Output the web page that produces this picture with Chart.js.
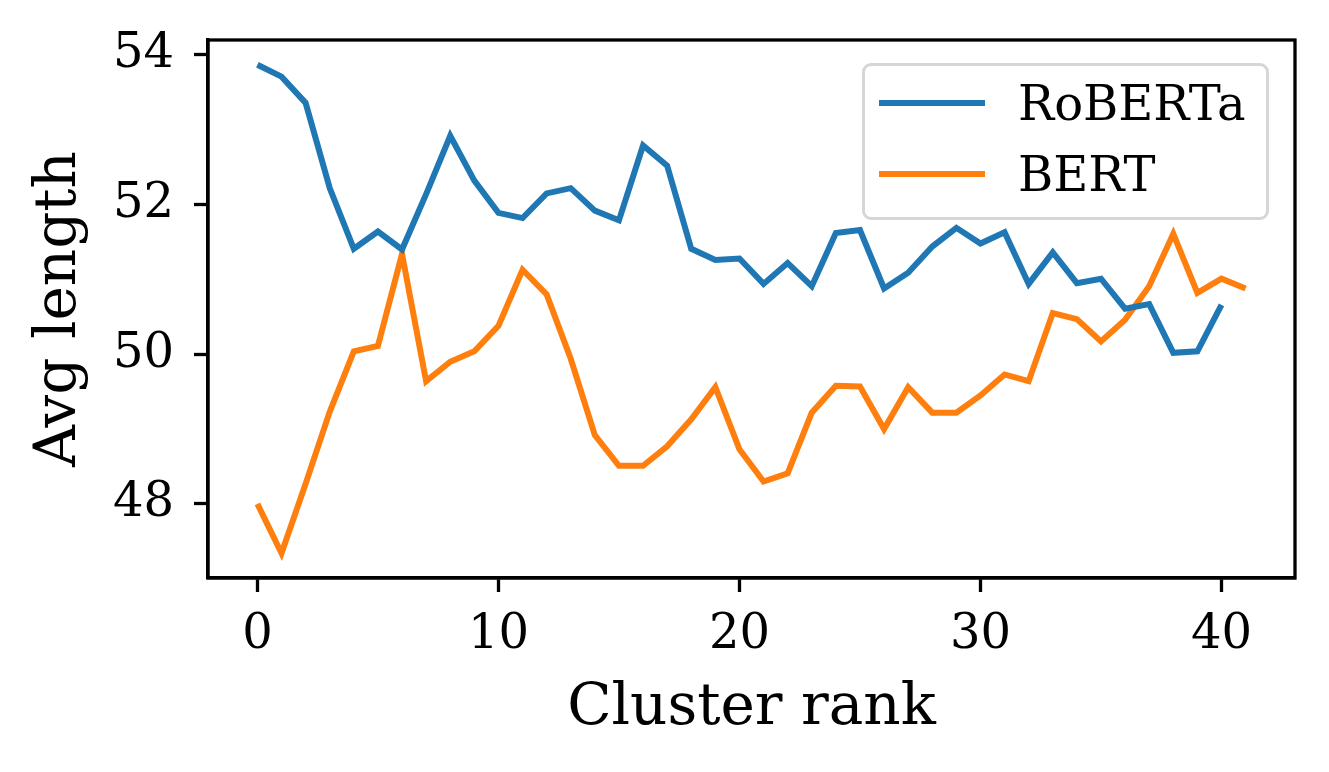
<!DOCTYPE html>
<html>
<head>
<meta charset="utf-8">
<script src="https://cdn.jsdelivr.net/npm/chart.js@4"></script>
<style>
  html, body { margin: 0; padding: 0; background: #fff; }
  #wrap { position: relative; width: 1329px; height: 772px; }
  #legend {
    position: absolute; left: 862px; top: 63px; width: 401px; height: 151px;
    border: 3px solid #d6d6d6; border-radius: 9px; background: rgba(255,255,255,0.8);
    font-family: "DejaVu Serif", serif; font-size: 48px; color: #000;
  }
  .leg-item { position: absolute; left: 0; height: 60px; }
  .leg-line { position: absolute; left: 14px; width: 106px; height: 6px; top: 27px; }
  .leg-text { position: absolute; left: 153px; top: 0; line-height: 60px; white-space: nowrap; }
</style>
</head>
<body>
<div id="wrap">
  <canvas id="chart" width="1329" height="772"></canvas>
  <div id="legend"></div>
</div>
<script>
// cluster ranks
let ranks = [0, 1, 2, 3, 4, 5, 6, 7, 8, 9, 10, 11, 12, 13, 14, 15, 16, 17, 18, 19, 20,
             21, 22, 23, 24, 25, 26, 27, 28, 29, 30, 31, 32, 33, 34, 35, 36, 37, 38, 39, 40, 41];

// avg length per cluster
let roberta = [53.87, 53.71, 53.36, 52.22, 51.41, 51.64, 51.40, 52.14, 52.92, 52.32,
               51.89, 51.82, 52.15, 52.22, 51.92, 51.79, 52.79, 52.52, 51.41, 51.26,
               51.28, 50.94, 51.22, 50.91, 51.62, 51.66, 50.88, 51.09, 51.44, 51.69,
               51.48, 51.63, 50.94, 51.36, 50.95, 51.01, 50.61, 50.67, 50.02, 50.04,
               50.66];
let bert = [48.00, 47.34, 48.27, 49.23, 50.04, 50.11, 51.34, 49.64, 49.90, 50.04,
            50.38, 51.13, 50.80, 49.94, 48.92, 48.51, 48.51, 48.77, 49.13, 49.56,
            48.73, 48.30, 48.41, 49.22, 49.58, 49.57, 49.00, 49.56, 49.22, 49.22,
            49.45, 49.73, 49.64, 50.55, 50.47, 50.17, 50.46, 50.91, 51.61, 50.82,
            51.01, 50.88];

let xTicks = [0, 10, 20, 30, 40];
let yTicks = [48, 50, 52, 54];

let FONT = "DejaVu Serif";

function toPoints(vals) {
  let out = [];
  for (let i = 0; i < vals.length; i++) {
    out.push({ x: ranks[i], y: vals[i] });
  }
  return out;
}

// top and right spines
let framePlugin = {
  id: "frame",
  afterDraw(chart) {
    let a = chart.chartArea;
    let ctx = chart.ctx;
    ctx.save();
    ctx.strokeStyle = "#000";
    ctx.lineWidth = 3.3;
    ctx.strokeRect(a.left, a.top, a.right - a.left, a.bottom - a.top);
    ctx.restore();
  },
};

let tickGrid = {
  display: true,
  drawOnChartArea: false,
  drawTicks: true,
  tickLength: 14,
  tickWidth: 3.3,
  tickColor: "#000",
};

let chart = new Chart(document.getElementById("chart"), {
  type: "line",
  data: {
    datasets: [
      {
        label: "RoBERTa",
        data: toPoints(roberta),
        borderColor: "#1f77b4",
        borderWidth: 6,
        pointRadius: 0,
        tension: 0,
        fill: false,
        borderCapStyle: "butt",
      },
      {
        label: "BERT",
        data: toPoints(bert),
        borderColor: "#ff7f0e",
        borderWidth: 6,
        pointRadius: 0,
        tension: 0,
        fill: false,
        borderCapStyle: "butt",
      },
    ],
  },
  options: {
    responsive: false,
    animation: false,
    layout: { padding: { left: 0, top: 40, right: 34, bottom: 0 } },
    plugins: {
      legend: { display: false },
      tooltip: { enabled: false },
    },
    scales: {
      x: {
        type: "linear",
        min: -2.05,
        max: 43.05,
        afterBuildTicks: (s) => { s.ticks = xTicks.map((v) => ({ value: v })); },
        afterFit: (s) => {
          s.height = 194;
          s.paddingLeft = 0;
          s.paddingRight = 0;
        },
        grid: tickGrid,
        border: { display: true, color: "#000", width: 3.3 },
        ticks: { color: "#000", padding: 15, font: { family: FONT, size: 48 } },
        title: {
          display: true,
          text: "Cluster rank",
          color: "#000",
          font: { family: FONT, size: 58 },
          padding: { top: 0, bottom: 28 },
        },
      },
      y: {
        type: "linear",
        min: 47.01,
        max: 54.2,
        afterBuildTicks: (s) => { s.ticks = yTicks.map((v) => ({ value: v })); },
        afterFit: (s) => {
          s.width = 208;
          s.paddingTop = 0;
          s.paddingBottom = 0;
        },
        grid: tickGrid,
        border: { display: true, color: "#000", width: 3.3 },
        ticks: { color: "#000", padding: 20, font: { family: FONT, size: 48 } },
        title: {
          display: true,
          text: "Avg length",
          color: "#000",
          font: { family: FONT, size: 58 },
          padding: { top: 25, bottom: 0 },
        },
      },
    },
  },
  plugins: [framePlugin],
});

// legend box built from the datasets
let leg = document.getElementById("legend");
chart.data.datasets.forEach((ds, i) => {
  let item = document.createElement("div");
  item.className = "leg-item";
  item.style.top = (7 + i * 71) + "px";
  item.innerHTML = `<div class="leg-line" style="background:${ds.borderColor}"></div>
    <div class="leg-text">${ds.label}</div>`;
  leg.appendChild(item);
});
</script>
</body>
</html>
